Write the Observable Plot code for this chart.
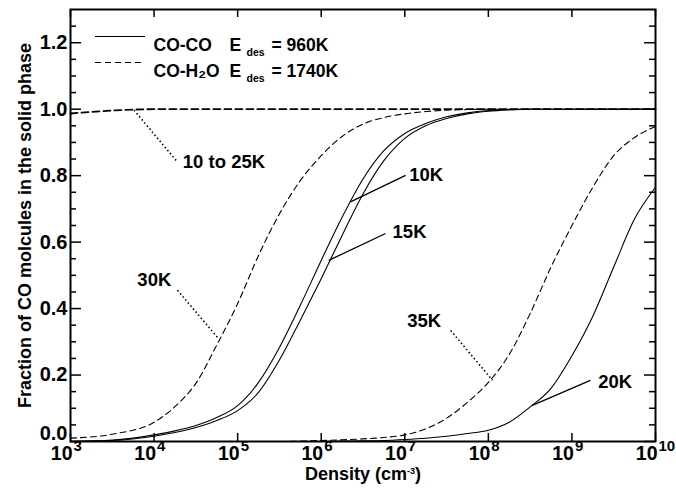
<!DOCTYPE html>
<html><head><meta charset="utf-8">
<script src="https://cdn.jsdelivr.net/npm/d3@7"></script>
<script src="https://cdn.jsdelivr.net/npm/@observablehq/plot@0.6"></script>
<style>body{margin:0;background:#fff}</style>
</head><body><div id="chart"></div>
<script>
// ---- data (log10 of density in cm^-3, fraction in solid phase) ----
const logDensity = [3,3.5,4,4.25,4.5,4.75,5,5.25,5.5,5.75,6,6.25,6.5,6.75,7,7.25,7.5,7.75,8,8.25,8.5,8.75,9,9.25,9.5,9.75,10];
const coco10K  = [0,0.004,0.02,0.032,0.048,0.072,0.108,0.178,0.283,0.41,0.545,0.675,0.79,0.875,0.927,0.957,0.977,0.989,0.996,0.999,1,1,1,1,1,1,1];
const coco15K  = [0,0.003,0.016,0.027,0.042,0.063,0.093,0.148,0.245,0.365,0.49,0.62,0.745,0.845,0.912,0.95,0.972,0.986,0.994,0.998,1,1,1,1,1,1,1];
const coco20K  = [0,0,0,0,0,0,0,0,0,0,0,0.001,0.002,0.003,0.006,0.01,0.016,0.024,0.034,0.058,0.104,0.16,0.258,0.377,0.525,0.67,0.765];
const h2o10to25K = [0.987,0.996,1,1,1,1,1,1,1,1,1,1,1,1,1,1,1,1,1,1,1,1,1,1,1,1,1];
const h2o30K   = [0.01,0.022,0.058,0.105,0.175,0.29,0.415,0.56,0.685,0.785,0.86,0.918,0.955,0.975,0.986,0.993,0.997,0.999,1,1,1,1,1,1,1,1,1];
const h2o35K   = [0,0,0,0,0,0,0,0,0,0.001,0.003,0.005,0.008,0.012,0.02,0.038,0.07,0.118,0.178,0.262,0.385,0.525,0.65,0.765,0.86,0.915,0.948];

// curve annotations
const labelText  = ["10K","15K","20K","30K","35K","10 to 25K"];
const labelLogX  = [7.03, 6.83, 9.29, 4.23, 7.46, 4.32];
const labelY     = [0.801, 0.63, 0.178, 0.485, 0.361, 0.84];
const labelSide  = ["start","start","start","end","end","start"];
const solidLeaderFrom = [[6.35,0.721],[6.09,0.545],[8.52,0.108]];
const solidLeaderTo   = [[7.01,0.801],[6.77,0.626],[9.22,0.184]];
const dotLeaderFrom   = [[4.28,0.455],[7.55,0.334],[3.76,0.997]];
const dotLeaderTo     = [[4.77,0.31],[8.05,0.184],[4.28,0.841]];

// axes
const xTickExponents = [3,4,5,6,7,8,9,10];
const yTickValues = [0,0.2,0.4,0.6,0.8,1.0,1.2];
const yTickLabels = ["0.0","0.2","0.4","0.6","0.8","1.0","1.2"];
const yMinorValues = [0.05,0.1,0.15,0.25,0.3,0.35,0.45,0.5,0.55,0.65,0.7,0.75,0.85,0.9,0.95,1.05,1.1,1.15,1.25];
const xTitle = "Density (cm-3)";
const yTitle = "Fraction of CO molcules in the solid phase";
const yDomain = [0, 1.3];

// legend
const legendNames  = ["CO-CO", "CO-H\u2082O"];
const legendValues = ["= 960K", "= 1740K"];

// ---- build tables ----
function rows(name, values) { return logDensity.map((L, i) => ({series: name, density: 10 ** L, fraction: values[i]})); }
const cocoRows = [...rows("10K", coco10K), ...rows("15K", coco15K), ...rows("20K", coco20K)];
const h2oRows = [...rows("30K", h2o30K), ...rows("35K", h2o35K)];
const flatRows = rows("10-25K", h2o10to25K);
const labels = labelText.map((t, i) => ({t, x: 10 ** labelLogX[i], y: labelY[i], side: labelSide[i]}));
const mkLinks = (a, b) => a.map((p, i) => ({x1: 10 ** p[0], y1: p[1], x2: 10 ** b[i][0], y2: b[i][1]}));
const solidLinks = mkLinks(solidLeaderFrom, solidLeaderTo);
const dotLinks = mkLinks(dotLeaderFrom, dotLeaderTo);
const yTicks = yTickValues.map((v, i) => ({v, label: yTickLabels[i]}));

const FW = 585, FH = 432;
const legendMarks = legendNames.flatMap((name, i) => {
  const c = [38, 64][i] - 9;
  return [
    Plot.ruleY([yDomain[1]], {dy: [27, 53][i], insetLeft: 25, insetRight: 510, stroke: "black", strokeWidth: 1.2, strokeDasharray: i ? "6,4" : null}),
    Plot.text([name], {frameAnchor: "top-left", dx: 83, dy: c, textAnchor: "start", fontSize: 17.5}),
    Plot.text(["E"], {frameAnchor: "top-left", dx: 159, dy: c, textAnchor: "start", fontSize: 17.5}),
    Plot.text(["des"], {frameAnchor: "top-left", dx: 176, dy: c + 10, textAnchor: "start", fontSize: 10.5}),
    Plot.text([legendValues[i]], {frameAnchor: "top-left", dx: 201, dy: c, textAnchor: "start", fontSize: 17.5})
  ];
});

const svg = Plot.plot({
  width: 676, height: 489,
  marginLeft: 70, marginRight: 21, marginTop: 9, marginBottom: 48,
  x: {type: "log", domain: [1e3, 1e10], axis: null},
  y: {domain: yDomain, axis: null},
  style: {fontFamily: "'Liberation Sans', Arial, Helvetica, sans-serif", fontWeight: "bold", background: "white", color: "black"},
  marks: [
    Plot.line(h2oRows, {x: "density", y: "fraction", z: "series", stroke: "black", strokeWidth: 1.1, strokeDasharray: "6,4", curve: "monotone-x"}),
    Plot.line(flatRows, {x: "density", y: "fraction", stroke: "black", strokeWidth: 1.8, strokeDasharray: "7,4", curve: "monotone-x"}),
    Plot.line(cocoRows, {x: "density", y: "fraction", z: "series", stroke: "black", strokeWidth: 1.1, curve: "monotone-x"}),
    Plot.link(solidLinks, {x1: "x1", y1: "y1", x2: "x2", y2: "y2", stroke: "black", strokeWidth: 1.3}),
    Plot.link(dotLinks, {x1: "x1", y1: "y1", x2: "x2", y2: "y2", stroke: "black", strokeWidth: 1.6, strokeDasharray: "1.5,2.5"}),
    Plot.text(labels.filter(d => d.side === "start"), {x: "x", y: "y", text: "t", textAnchor: "start", dx: 2, fontSize: 18.5}),
    Plot.text(labels.filter(d => d.side === "end"), {x: "x", y: "y", text: "t", textAnchor: "end", dx: -2, fontSize: 18.5}),
    // ticks
    Plot.tickX(xTickExponents, {x: e => 10 ** e, insetTop: FH - 8, stroke: "black", strokeWidth: 1.5}),
    Plot.tickX(xTickExponents, {x: e => 10 ** e, insetBottom: FH - 8, stroke: "black", strokeWidth: 1.5}),
    Plot.tickY(yTickValues, {y: d => d, insetRight: FW - 11, stroke: "black", strokeWidth: 1.5}),
    Plot.tickY(yTickValues, {y: d => d, insetLeft: FW - 11, stroke: "black", strokeWidth: 1.5}),
    Plot.tickY(yMinorValues, {y: d => d, insetRight: FW - 6, stroke: "black", strokeWidth: 1.5}),
    Plot.tickY(yMinorValues, {y: d => d, insetLeft: FW - 6, stroke: "black", strokeWidth: 1.5}),
    // tick labels
    Plot.text(xTickExponents, {x: e => 10 ** e, text: () => "10", frameAnchor: "bottom", textAnchor: "end", dx: 2, dy: 18, fontSize: 19.5}),
    Plot.text(xTickExponents, {x: e => 10 ** e, text: e => String(e), frameAnchor: "bottom", textAnchor: "start", dx: 3, dy: 9, fontSize: 15}),
    Plot.text(yTicks.slice(1), {y: "v", text: "label", frameAnchor: "left", textAnchor: "end", dx: -3, fontSize: 20}),
    Plot.text(yTicks.slice(0, 1), {y: "v", text: "label", frameAnchor: "left", textAnchor: "end", dx: -3, dy: -8, fontSize: 20}),
    // titles
    Plot.text([xTitle], {frameAnchor: "bottom", dy: 38, fontSize: 18}),
    Plot.text([yTitle], {frameAnchor: "left", textAnchor: "middle", rotate: -90, dx: -45, fontSize: 18}),
    ...legendMarks,
    Plot.frame({stroke: "black", strokeWidth: 2})
  ]
});

d3.select(svg).selectAll("text").filter(function() { return this.textContent === xTitle; }).each(function() {
  const t = d3.select(this);
  t.text(null);
  t.append("tspan").text("Density (cm");
  t.append("tspan").attr("dy", -6).attr("font-size", 9).text("-3");
  t.append("tspan").attr("dy", 6).text(")");
});

document.getElementById("chart").append(svg);
</script>
</body></html>
